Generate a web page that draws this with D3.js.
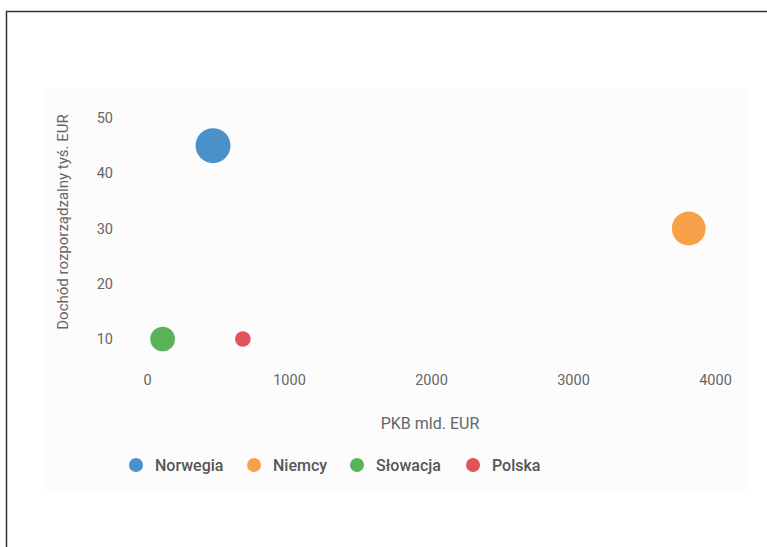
<!DOCTYPE html>
<html>
<head>
<meta charset="utf-8">
<script src="https://cdn.jsdelivr.net/npm/d3@7"></script>
<style>
  html, body { margin: 0; padding: 0; background: #fff; }
  svg { display: block; font-family: Roboto, "Noto Sans", Arial, sans-serif; }
</style>
</head>
<body>
<svg id="chart" width="767" height="547"></svg>
<script>
const countries = ["Norwegia", "Niemcy", "Słowacja", "Polska"];
const gdp = [465, 3815, 110, 675];          // PKB mld. EUR
const income = [45, 30, 10, 10];            // Dochód rozporządzalny tyś. EUR
const bubbleSize = [300, 280, 150, 60];     // relative bubble size
const colors = ["#4a90c9", "#f7a048", "#5bb357", "#e0535b"];
const xTicks = [0, 1000, 2000, 3000, 4000];
const yTicks = [10, 20, 30, 40, 50];

const svg = d3.select("#chart");

// outer frame
svg.append("path")
  .attr("d", "M6.5,547 L6.5,11.5 L767,11.5")
  .attr("fill", "none").attr("stroke", "#333").attr("stroke-width", 1.5);

// panel background
svg.append("rect")
  .attr("x", 43).attr("y", 88).attr("width", 703).attr("height", 404)
  .attr("fill", "#fcfcfc");

const x = d3.scaleLinear().domain([0, 4000]).range([147, 715]);
const y = d3.scaleLinear().domain([10, 50]).range([339, 118]);
const r = d3.scaleSqrt().domain([0, 300]).range([0, 17.5]);

// x axis
const xAxis = svg.append("g").attr("transform", "translate(0,380)")
  .call(d3.axisBottom(x).tickValues(xTicks).tickSize(0).tickPadding(0).tickFormat(d3.format("d")));
xAxis.select(".domain").remove();
xAxis.selectAll("text").attr("fill", "#666").attr("font-size", 14.5).attr("dy", "0.32em")
  .attr("font-family", "Roboto, sans-serif");

// y axis
const yAxis = svg.append("g").attr("transform", "translate(113,0)")
  .call(d3.axisLeft(y).tickValues(yTicks).tickSize(0).tickPadding(0).tickFormat(d3.format("d")));
yAxis.select(".domain").remove();
yAxis.selectAll("text").attr("fill", "#666").attr("font-size", 14.5)
  .attr("font-family", "Roboto, sans-serif");

// axis titles
svg.append("text")
  .attr("x", 430).attr("y", 423).attr("text-anchor", "middle").attr("dy", "0.35em")
  .attr("fill", "#666").attr("font-size", 16)
  .text("PKB mld. EUR");

svg.append("text")
  .attr("transform", "translate(63,222) rotate(-90)")
  .attr("text-anchor", "middle").attr("dy", "0.35em")
  .attr("fill", "#666").attr("font-size", 15)
  .text("Dochód rozporządzalny tyś. EUR");

// bubbles
svg.append("g").selectAll("circle")
  .data(countries)
  .join("circle")
  .attr("cx", (d, i) => x(gdp[i]))
  .attr("cy", (d, i) => y(income[i]))
  .attr("r", (d, i) => r(bubbleSize[i]))
  .attr("fill", (d, i) => colors[i]);

// legend
const legendX = [136, 254, 357, 473];
const legend = svg.append("g").selectAll("g")
  .data(countries)
  .join("g")
  .attr("transform", (d, i) => `translate(${legendX[i]},465)`);
legend.append("circle").attr("r", 7).attr("fill", (d, i) => colors[i]);
legend.append("text")
  .attr("x", 19).attr("dy", "0.35em")
  .attr("fill", "#555").attr("font-size", 16).attr("font-weight", 500)
  .text(d => d);
</script>
</body>
</html>
